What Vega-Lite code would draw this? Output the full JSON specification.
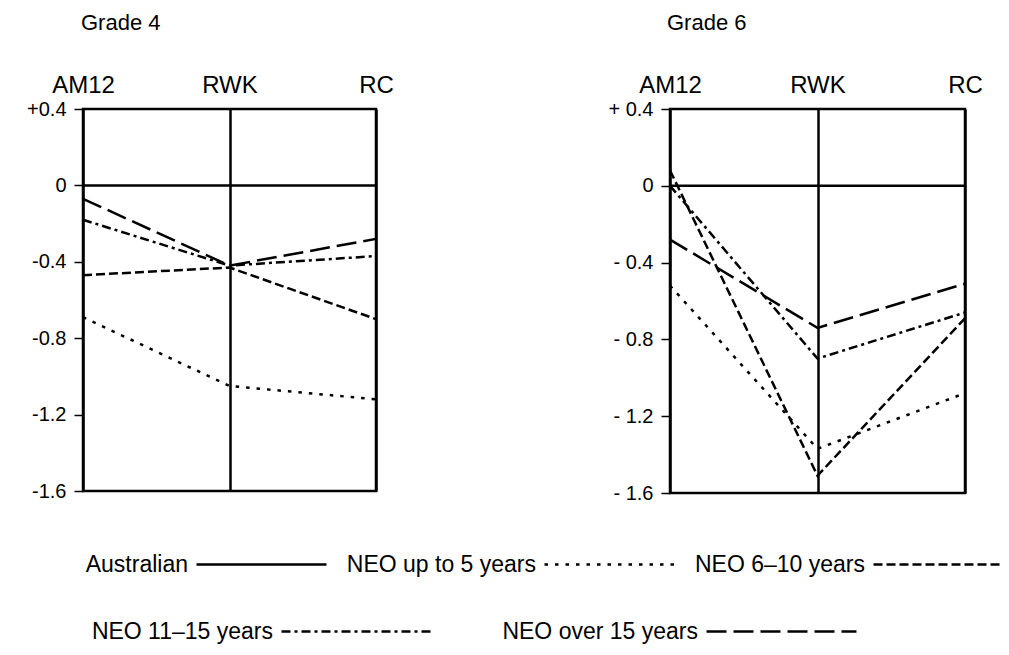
{
  "$schema": "https://vega.github.io/schema/vega-lite/v6.json",
  "background": "white",
  "padding": {"left": 25, "top": 10, "right": 5, "bottom": 5},
  "config": {
    "font": "Liberation Sans",
    "view": {"stroke": "black", "strokeWidth": 2.5},
    "axis": {"labelColor": "black", "labelFont": "Liberation Sans", "domain": false},
    "title": {"color": "black", "font": "Liberation Sans"}
  },
  "data": {
    "values": [
      {"grade": "Grade 4", "test": "AM12", "group": "Australian", "value": 0},
      {"grade": "Grade 4", "test": "RWK", "group": "Australian", "value": 0},
      {"grade": "Grade 4", "test": "RC", "group": "Australian", "value": 0},
      {"grade": "Grade 4", "test": "AM12", "group": "NEO up to 5 years", "value": -0.69},
      {"grade": "Grade 4", "test": "RWK", "group": "NEO up to 5 years", "value": -1.05},
      {"grade": "Grade 4", "test": "RC", "group": "NEO up to 5 years", "value": -1.12},
      {"grade": "Grade 4", "test": "AM12", "group": "NEO 6–10 years", "value": -0.47},
      {"grade": "Grade 4", "test": "RWK", "group": "NEO 6–10 years", "value": -0.43},
      {"grade": "Grade 4", "test": "RC", "group": "NEO 6–10 years", "value": -0.70},
      {"grade": "Grade 4", "test": "AM12", "group": "NEO 11–15 years", "value": -0.18},
      {"grade": "Grade 4", "test": "RWK", "group": "NEO 11–15 years", "value": -0.42},
      {"grade": "Grade 4", "test": "RC", "group": "NEO 11–15 years", "value": -0.37},
      {"grade": "Grade 4", "test": "AM12", "group": "NEO over 15 years", "value": -0.07},
      {"grade": "Grade 4", "test": "RWK", "group": "NEO over 15 years", "value": -0.42},
      {"grade": "Grade 4", "test": "RC", "group": "NEO over 15 years", "value": -0.28},
      {"grade": "Grade 6", "test": "AM12", "group": "Australian", "value": 0},
      {"grade": "Grade 6", "test": "RWK", "group": "Australian", "value": 0},
      {"grade": "Grade 6", "test": "RC", "group": "Australian", "value": 0},
      {"grade": "Grade 6", "test": "AM12", "group": "NEO up to 5 years", "value": -0.52},
      {"grade": "Grade 6", "test": "RWK", "group": "NEO up to 5 years", "value": -1.37},
      {"grade": "Grade 6", "test": "RC", "group": "NEO up to 5 years", "value": -1.08},
      {"grade": "Grade 6", "test": "AM12", "group": "NEO 6–10 years", "value": 0.08},
      {"grade": "Grade 6", "test": "RWK", "group": "NEO 6–10 years", "value": -1.51},
      {"grade": "Grade 6", "test": "RC", "group": "NEO 6–10 years", "value": -0.69},
      {"grade": "Grade 6", "test": "AM12", "group": "NEO 11–15 years", "value": 0.0},
      {"grade": "Grade 6", "test": "RWK", "group": "NEO 11–15 years", "value": -0.90},
      {"grade": "Grade 6", "test": "RC", "group": "NEO 11–15 years", "value": -0.66},
      {"grade": "Grade 6", "test": "AM12", "group": "NEO over 15 years", "value": -0.28},
      {"grade": "Grade 6", "test": "RWK", "group": "NEO over 15 years", "value": -0.74},
      {"grade": "Grade 6", "test": "RC", "group": "NEO over 15 years", "value": -0.51}
    ]
  },
  "spacing": 211,
  "hconcat": [
    {
      "title": {"text": "Grade 4", "anchor": "start", "frame": "group", "fontSize": 22, "fontWeight": "normal", "offset": 38, "dx": -2},
      "width": 293,
      "height": 382,
      "transform": [{"filter": "datum.grade === 'Grade 4'"}],
      "mark": {"type": "line", "color": "black", "strokeWidth": 2.5},
      "encoding": {
        "x": {"field": "test", "type": "ordinal", "sort": ["AM12", "RWK", "RC"], "scale": {"type": "point", "padding": 0},
              "axis": {"orient": "top", "title": null, "labelAngle": 0, "ticks": false, "tickSize": 0, "labelPadding": 12, "labelFontSize": 24, "grid": true, "gridColor": "black", "gridWidth": 2.5, "gridOpacity": 1}},
        "y": {"field": "value", "type": "quantitative", "scale": {"domain": [-1.6, 0.4], "nice": false, "zero": false},
              "axis": {"title": null, "grid": false, "values": [0.4, 0, -0.4, -0.8, -1.2, -1.6], "tickColor": "black", "tickSize": 9, "tickWidth": 1.5, "labelPadding": 8, "labelFontSize": 20,
                       "labelExpr": "datum.value > 0.01 ? '+' + format(datum.value, '.1f') : (datum.value < -0.01 ? '-' + format(-datum.value, '.1f') : '0')"}},
        "strokeDash": {"field": "group", "type": "nominal",
              "scale": {"domain": ["Australian", "NEO up to 5 years", "NEO 6–10 years", "NEO 11–15 years", "NEO over 15 years"],
                        "range": [[1, 0], [3.5, 7], [9, 4], [9, 4, 3, 4], [20, 7]]},
              "legend": {"orient": "none", "legendX": 112, "legendY": 389, "direction": "horizontal", "gridAlign": "none", "title": null,
                         "values": ["Australian", "NEO up to 5 years", "NEO 6–10 years"],
                         "symbolType": "stroke", "symbolSize": 16900, "symbolStrokeWidth": 2.5, "symbolStrokeColor": "black",
                         "labelFontSize": 23, "labelColor": "black", "labelAlign": "right", "labelOffset": -140, "labelLimit": 300,
                         "columnPadding": 14, "padding": 0}}
      }
    },
    {
      "title": {"text": "Grade 6", "anchor": "start", "frame": "group", "fontSize": 22, "fontWeight": "normal", "offset": 38, "dx": -3},
      "width": 295,
      "height": 384,
      "transform": [{"filter": "datum.grade === 'Grade 6'"}],
      "mark": {"type": "line", "color": "black", "strokeWidth": 2.5},
      "encoding": {
        "x": {"field": "test", "type": "ordinal", "sort": ["AM12", "RWK", "RC"], "scale": {"type": "point", "padding": 0},
              "axis": {"orient": "top", "title": null, "labelAngle": 0, "ticks": false, "tickSize": 0, "labelPadding": 12, "labelFontSize": 24, "grid": true, "gridColor": "black", "gridWidth": 2.5, "gridOpacity": 1}},
        "y": {"field": "value", "type": "quantitative", "scale": {"domain": [-1.6, 0.4], "nice": false, "zero": false},
              "axis": {"title": null, "grid": false, "values": [0.4, 0, -0.4, -0.8, -1.2, -1.6], "tickColor": "black", "tickSize": 9, "tickWidth": 1.5, "labelPadding": 8, "labelFontSize": 20,
                       "labelExpr": "datum.value > 0.01 ? '+ ' + format(datum.value, '.1f') : (datum.value < -0.01 ? '- ' + format(-datum.value, '.1f') : '0')"}},
        "strokeDash": {"field": "group", "type": "nominal"},
        "opacity": {"field": "group", "type": "nominal",
              "scale": {"domain": ["NEO 11–15 years", "NEO over 15 years"], "range": [1, 1]},
              "legend": {"orient": "none", "legendX": 197, "legendY": 446, "direction": "horizontal", "gridAlign": "none", "title": null,
                         "symbolType": "stroke", "symbolSize": 22500, "symbolStrokeWidth": 2.5, "symbolStrokeColor": "black", "symbolOpacity": 1,
                         "labelFontSize": 23, "labelColor": "black", "labelAlign": "right", "labelOffset": -160, "labelLimit": 300,
                         "columnPadding": 65, "padding": 0,
                         "encode": {"symbols": {"update": {"strokeDash": {"signal": "datum.value === 'NEO 11–15 years' ? [9, 4, 3, 4] : [20, 7]"}, "stroke": {"value": "black"}, "strokeWidth": {"value": 2.5}, "opacity": {"value": 1}}}}}}
      }
    }
  ],
  "resolve": {"scale": {"strokeDash": "shared", "opacity": "shared"}}
}
